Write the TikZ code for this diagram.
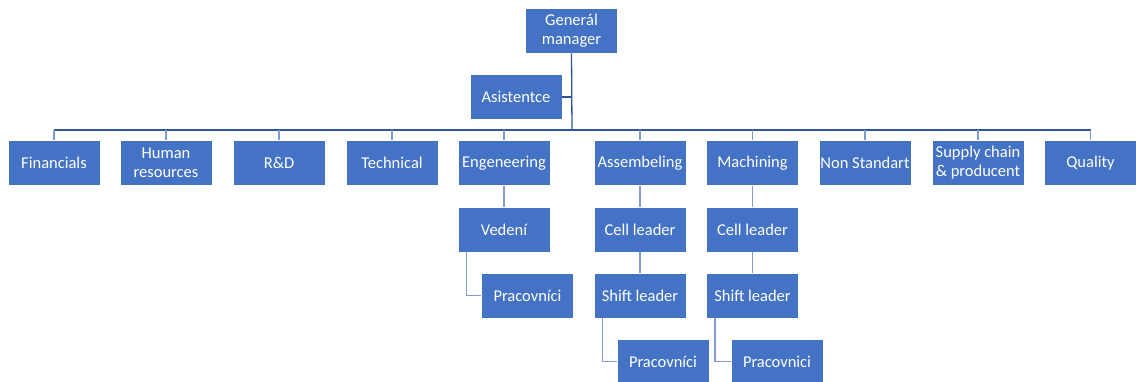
\documentclass[tikz,border=0pt]{standalone}
\usepackage{fontspec}
\setmainfont{Carlito}
\definecolor{boxblue}{HTML}{4472C4}
\definecolor{trunkblue}{HTML}{2F5597}
\definecolor{linkblue}{HTML}{7F9CD3}
\begin{document}
\begin{tikzpicture}[x=1pt,y=1pt,yscale=-1,
  unit/.style={draw=white, line width=0.8pt, fill=boxblue, text=white,
    minimum width=92pt, minimum height=45pt, inner sep=1pt, align=center,
    font=\fontsize{16.5}{19}\selectfont},
  trunk/.style={draw=trunkblue, line width=1.3pt},
  link/.style={draw=linkblue, line width=1.3pt}]
\useasboundingbox (0,0) rectangle (1136,381);

% Top
\node[unit] (gm) at (571.5,30.5) {Generál\\manager};
\node[unit] (asist) at (516,97) {Asistentce};
\coordinate (bus) at (572,130);

% Departments
\node[unit] (fin) at (54,163) {Financials};
\node[unit] (hr) at (166,163) {Human\\resources};
\node[unit] (rd) at (279,163) {R\&D};
\node[unit] (tech) at (392,163) {Technical};
\node[unit] (eng) at (504,163) {Engeneering};
\node[unit] (asm) at (640,163) {Assembeling};
\node[unit] (mach) at (752.5,163) {Machining};
\node[unit] (nonstd) at (865,163) {Non Standart};
\node[unit] (supply) at (978,163) {Supply chain\\\& producent};
\node[unit] (qual) at (1090.5,163) {Quality};

% Lower levels
\node[unit] (ved) at (504,229.5) {Vedení};
\node[unit] (cellA) at (640,229.5) {Cell leader};
\node[unit] (cellM) at (752.5,229.5) {Cell leader};
\node[unit] (pracE) at (527.5,295.5) {Pracovníci};
\node[unit] (shiftA) at (640,295.5) {Shift leader};
\node[unit] (shiftM) at (752.5,295.5) {Shift leader};
\node[unit] (pracA) at (663,361.5) {Pracovníci};
\node[unit] (pracM) at (777,361.5) {Pracovnici};

% Connectors
\draw[trunk] (gm.south) -- (bus);
\draw[trunk] (asist.east) -- (asist.east -| gm.south);
\draw[trunk] (fin.north |- bus) -- (qual.north |- bus);
\foreach \d in {fin,hr,rd,tech,eng,asm,mach,nonstd,supply,qual}
  \draw[link] (\d.north) -- (\d.north |- bus);
\draw[link] (eng.south) -- (ved.north);
\draw[link] (asm.south) -- (cellA.north);
\draw[link] (mach.south) -- (cellM.north);
\draw[link] (cellA.south) -- (shiftA.north);
\draw[link] (cellM.south) -- (shiftM.north);
\draw[link] ([xshift=9pt]ved.south west) |- (pracE.west);
\draw[link] ([xshift=9pt]shiftA.south west) |- (pracA.west);
\draw[link] ([xshift=9pt]shiftM.south west) |- (pracM.west);
\end{tikzpicture}
\end{document}
